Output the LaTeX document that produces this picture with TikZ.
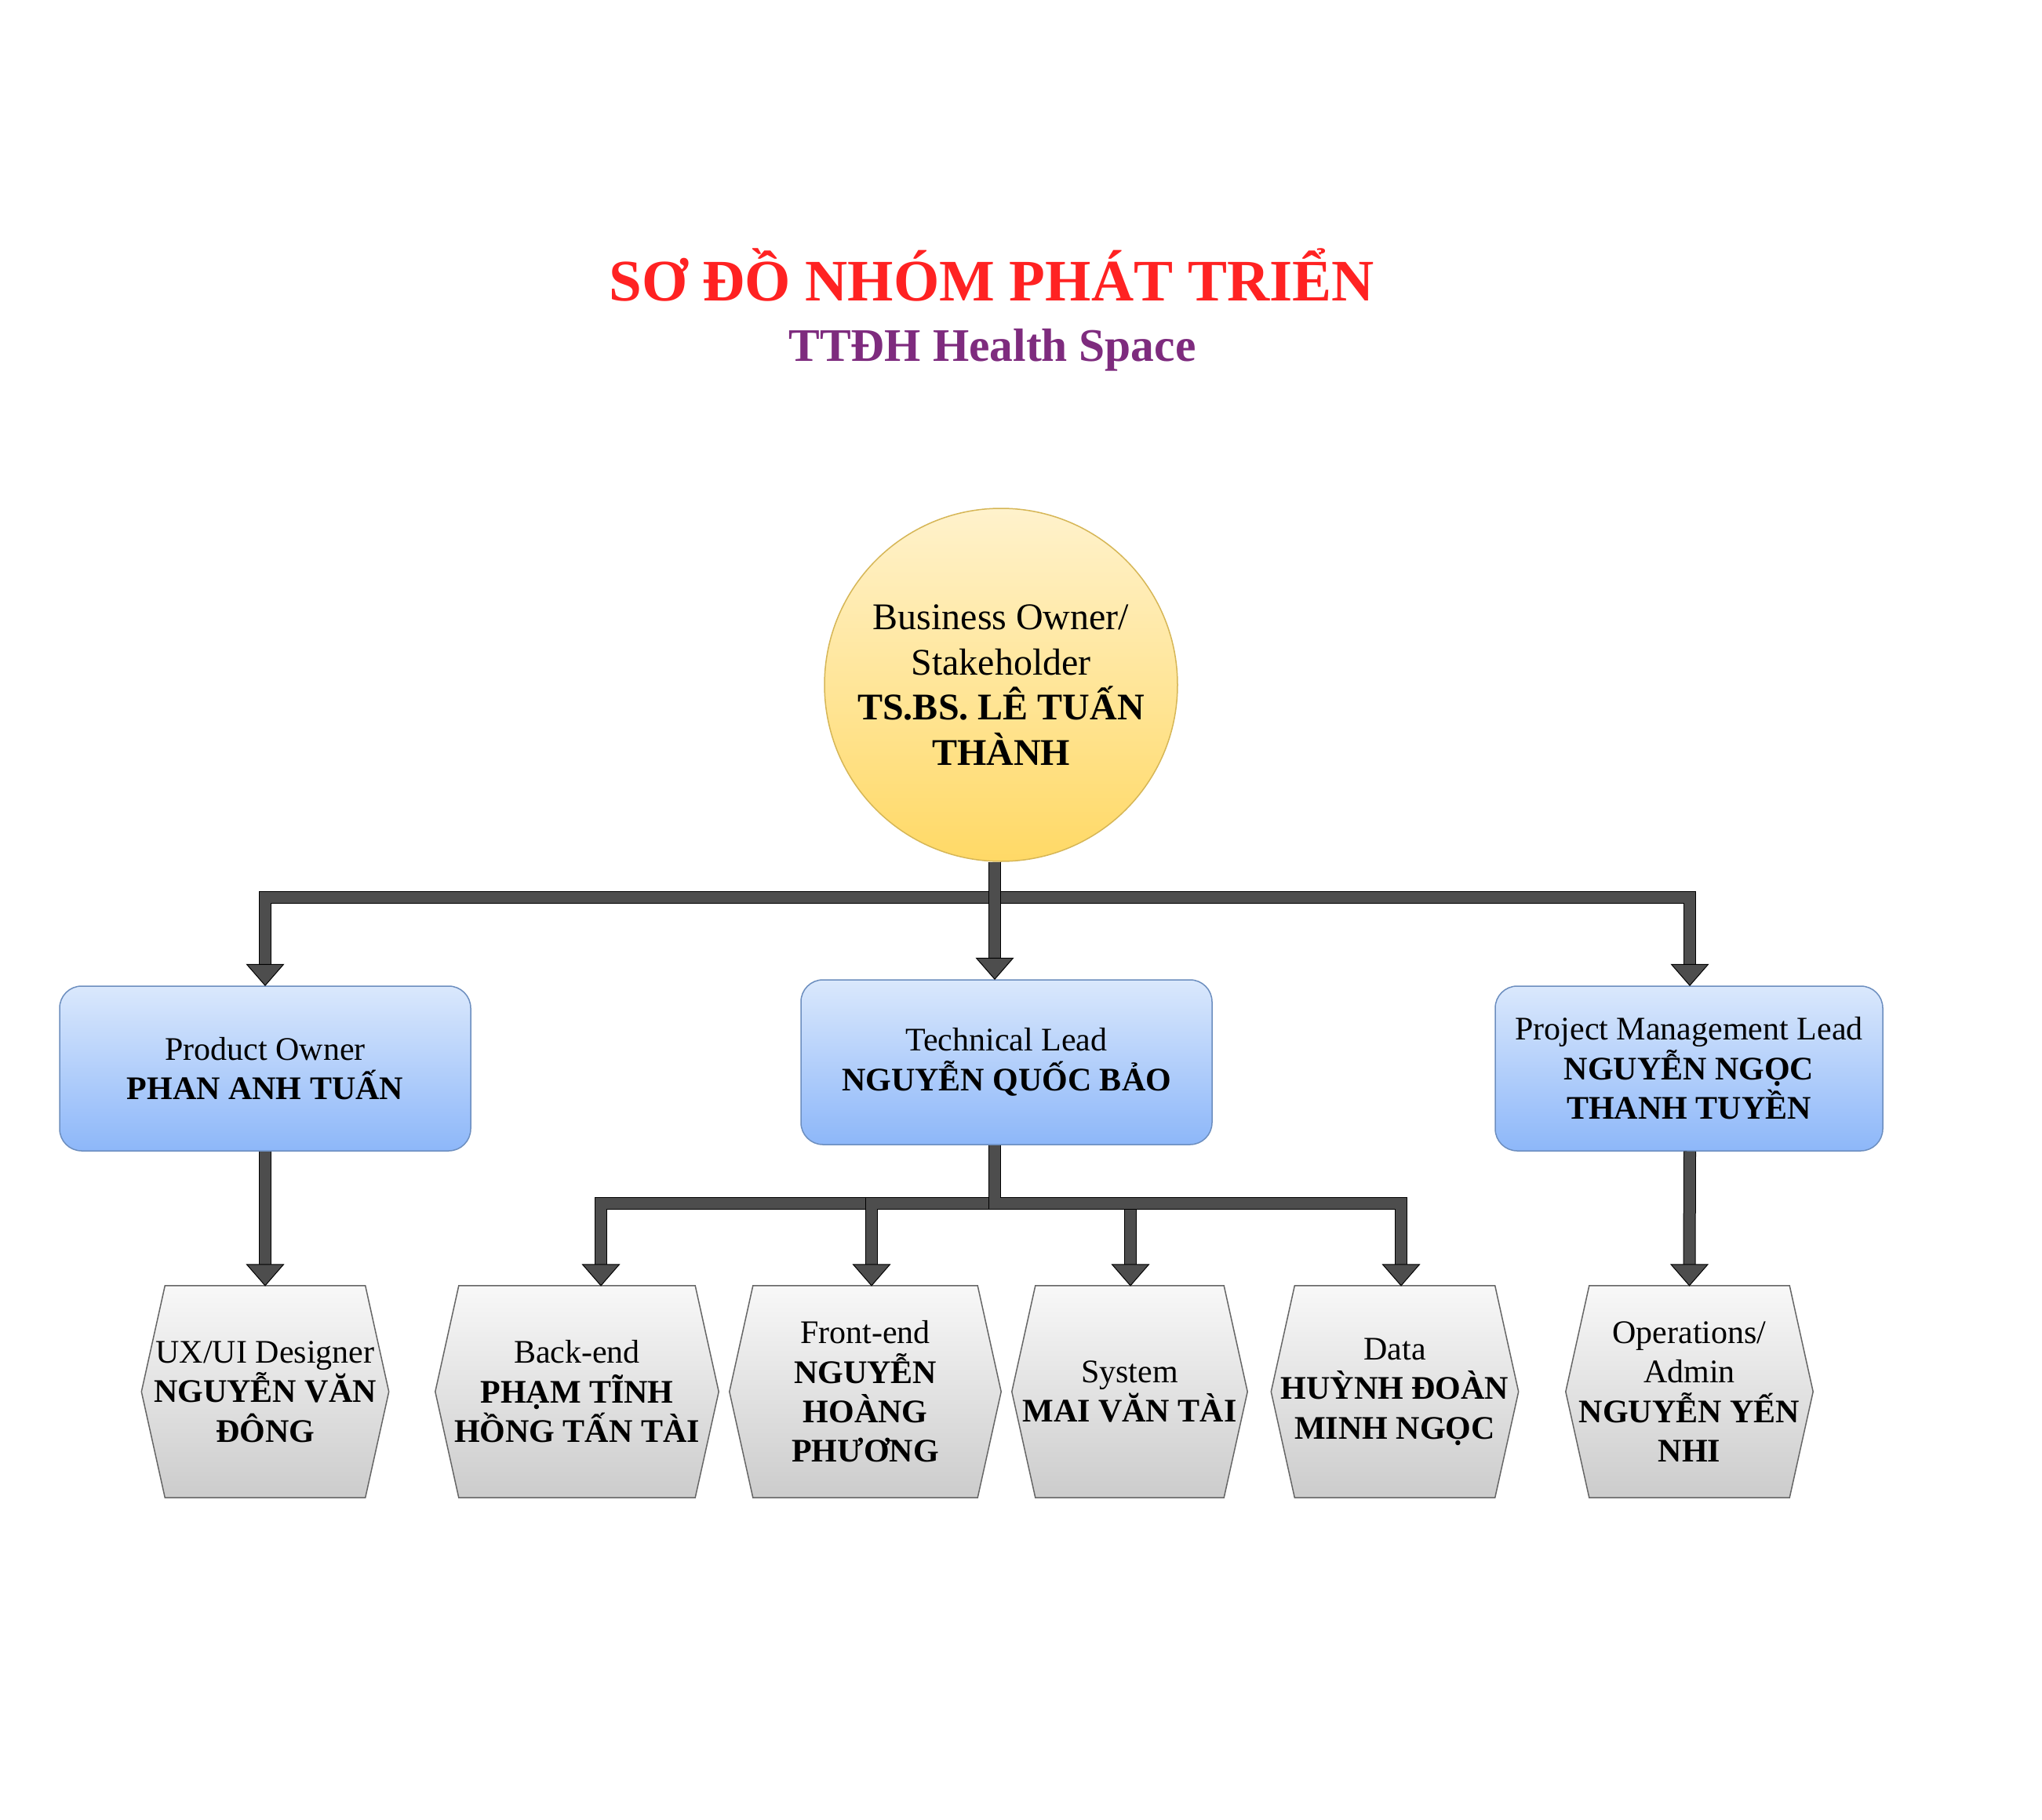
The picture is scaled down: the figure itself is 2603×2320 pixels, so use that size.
\documentclass[tikz,border=0pt]{standalone}
\usepackage{fontspec}
\setmainfont{Liberation Serif}
\usetikzlibrary{backgrounds}
\definecolor{titlered}{HTML}{FF2222}
\definecolor{subpurple}{HTML}{7E2B7E}
\definecolor{ytop}{HTML}{FFF2CC}
\definecolor{ybot}{HTML}{FFD966}
\definecolor{ystroke}{HTML}{D6B656}
\definecolor{btop}{HTML}{DAE8FC}
\definecolor{bbot}{HTML}{8DB7F9}
\definecolor{bstroke}{HTML}{6C8EBF}
\definecolor{gtop}{HTML}{F8F8F8}
\definecolor{gbot}{HTML}{CCCCCC}
\definecolor{gstroke}{HTML}{666666}
\definecolor{arrowgray}{HTML}{4D4D4D}
\tikzset{
  txt/.style={font=\fontsize{42}{50.4}\selectfont, align=center, inner sep=0pt},
  circnode/.style={circle, minimum size=450pt, draw=ystroke, line width=1.5pt, top color=ytop, bottom color=ybot, font=\fontsize{48}{57.6}\selectfont, align=center, inner sep=0pt},
  rectnode/.style={txt, rectangle, rounded corners=28pt, draw=bstroke, line width=1.5pt, top color=btop, bottom color=bbot, minimum height=210pt},
  hexnode/.style={txt, minimum height=270pt},
  hexfill/.style={draw=gstroke, line width=1.5pt, top color=gtop, bottom color=gbot},
  shaftout/.style={draw=black, line width=16pt},
  shaftin/.style={draw=arrowgray, line width=14pt},
  headstyle/.style={fill=arrowgray, draw=black, line width=1pt, line join=miter},
}
\newcommand\hexpath[1]{%
  \path[hexfill] ([xshift=30pt]#1.north west) -- ([xshift=-30pt]#1.north east) -- (#1.east) -- ([xshift=-30pt]#1.south east) -- ([xshift=30pt]#1.south west) -- (#1.west) -- cycle;}
\newcommand\fathead[1]{%
  \draw[headstyle] ([shift={(-23.5pt,27pt)}]#1) -- ([shift={(23.5pt,27pt)}]#1) -- (#1) -- cycle;}
\newcommand\fatbranch[3]{%
  \draw[shaftout] (#1) -- (#1 |- #2) -| ([yshift=27pt]#3);
  \draw[shaftin] (#1) -- (#1 |- #2) -| ([yshift=27pt]#3);
  \fathead{#3}}
\newcommand\fatstraight[2]{%
  \draw[shaftout] (#1) -- ([yshift=27pt]#2);
  \draw[shaftin] (#1) -- ([yshift=27pt]#2);
  \fathead{#2}}
\begin{document}
\begin{tikzpicture}[x=1pt, y=-1pt]
\useasboundingbox (0,0) rectangle (2603,2320);

% titles
\node[anchor=base, inner sep=0pt, text=titlered, font=\fontsize{75}{80}\selectfont\bfseries] (title) at (1264,383) {SƠ ĐỒ NHÓM PHÁT TRIỂN};
\node[anchor=base, inner sep=0pt, text=subpurple, font=\fontsize{59.5}{64}\selectfont\bfseries] (subtitle) at (1265,460) {TTĐH Health Space};

% top node
\node[circnode] (bo) at (1276,873) {Business Owner/\\Stakeholder\\\textbf{TS.BS. LÊ TUẤN}\\\textbf{THÀNH}};

% second level
\node[rectnode, minimum width=524pt] (po) at (338,1362) {Product Owner\\\textbf{PHAN ANH TUẤN}};
\node[rectnode, minimum width=524pt] (tl) at (1283,1354) {Technical Lead\\\textbf{NGUYỄN QUỐC BẢO}};
\node[rectnode, minimum width=494pt] (pm) at (2153,1362) {Project Management Lead\\\textbf{NGUYỄN NGỌC}\\\textbf{THANH TUYỀN}};

% third level
\node[hexnode, minimum width=315pt] (ux) at (338,1774) {UX/UI Designer\\\textbf{NGUYỄN VĂN}\\\textbf{ĐÔNG}};
\node[hexnode, minimum width=361pt] (be) at (735.5,1774) {Back-end\\\textbf{PHẠM TĨNH}\\\textbf{HỒNG TẤN TÀI}};
\node[hexnode, minimum width=346pt] (fe) at (1103,1774) {Front-end\\\textbf{NGUYỄN}\\\textbf{HOÀNG}\\\textbf{PHƯƠNG}};
\node[hexnode, minimum width=300pt] (sy) at (1440,1774) {System\\\textbf{MAI VĂN TÀI}};
\node[hexnode, minimum width=315pt] (da) at (1778,1774) {Data\\\textbf{HUỲNH ĐOÀN}\\\textbf{MINH NGỌC}};
\node[hexnode, minimum width=315pt] (op) at (2153.5,1774) {Operations/\\Admin\\\textbf{NGUYỄN YẾN}\\\textbf{NHI}};

\begin{pgfonlayer}{background}
  \fill[white] (0,0) rectangle (2603,2320);
  \hexpath{ux}\hexpath{be}\hexpath{fe}\hexpath{sy}\hexpath{da}\hexpath{op}
\end{pgfonlayer}

% connector anchor points
\coordinate (bar1) at (0,1144);
\coordinate (bar2) at (0,1534);
\coordinate (s-bo) at ([xshift=-8pt]bo.south);
\coordinate (s-tl) at ([xshift=-15pt]tl.south);
\coordinate (t-po) at (po.north);
\coordinate (t-tl) at (tl.north -| s-bo);
\coordinate (t-pm) at ([xshift=1pt]pm.north);
\coordinate (t-ux) at (ux.north);
\coordinate (t-be) at ([xshift=30.5pt]be.north);
\coordinate (t-fe) at ([xshift=8pt]fe.north);
\coordinate (t-sy) at ([xshift=1pt]sy.north);
\coordinate (t-da) at ([xshift=8pt]da.north);
\coordinate (t-op) at (op.north);
\coordinate (s-pm) at (t-pm |- pm.south);

% connectors
\fatbranch{s-bo}{bar1}{t-po}
\fatbranch{s-bo}{bar1}{t-pm}
\fatstraight{s-bo}{t-tl}
\fatbranch{s-tl}{bar2}{t-be}
\fatbranch{s-tl}{bar2}{t-fe}
\fatbranch{s-tl}{bar2}{t-sy}
\fatbranch{s-tl}{bar2}{t-da}
\fatstraight{po.south}{t-ux}
\fatstraight{s-pm}{t-op}
\end{tikzpicture}
\end{document}
